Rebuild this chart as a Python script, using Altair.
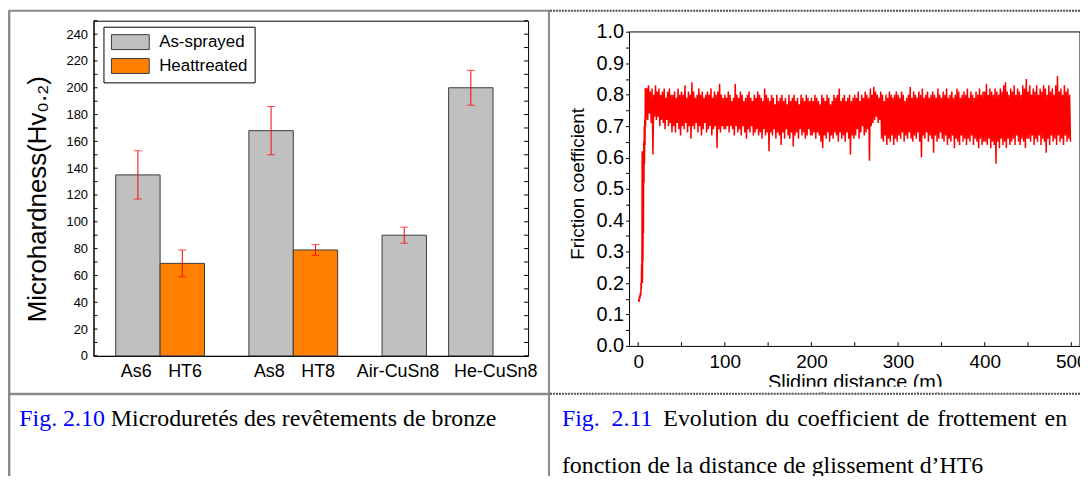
import altair as alt
import pandas as pd

# ---------------- Fig. 2.10 : microhardness ----------------
samples = ["As6", "HT6", "As8", "HT8", "Air-CuSn8", "He-CuSn8"]
series = ["As-sprayed", "Heattreated", "As-sprayed", "Heattreated", "As-sprayed", "As-sprayed"]
slot = [1, 2, 4, 5, 7, 8.5]
hardness = [135, 69, 168, 79, 90, 200]
err_low = [117, 59, 150, 75, 84, 187]
err_high = [153, 79, 186, 83, 96, 213]
hardness_ticks = list(range(0, 250, 20))
hardness_minor = list(range(0, 251, 10))
label_slots = [0.95, 2.05, 3.95, 5.05, 6.85, 9.05]
series_names = ["As-sprayed", "Heattreated"]
series_colors = ["#c0c0c0", "#ff8000"]

# ---------------- Fig. 2.11 : friction coefficient ----------------
ramp_x = [0.5, 1.0, 1.5, 2.0, 2.5, 3.0, 3.3, 3.6, 4.0, 4.3, 4.6, 4.9, 5.2, 5.5,
          5.8, 6.1, 6.4, 6.7, 7.0, 7.3, 7.6, 7.9, 8.2, 8.5, 8.8, 9.1, 9.4]
ramp_mu = [0.15, 0.14, 0.16, 0.15, 0.17, 0.16, 0.20, 0.18, 0.26, 0.22, 0.62, 0.20, 0.30, 0.27,
           0.45, 0.36, 0.65, 0.52, 0.70, 0.58, 0.72, 0.64, 0.82, 0.70, 0.81, 0.72, 0.82]
# peaks read at 10, 12, ..., 498 m ; troughs at 11, 13, ..., 499 m
peak_mu = [
    0.82, 0.83, 0.81, 0.82, 0.80, 0.83, 0.81, 0.82, 0.80, 0.81, 0.82, 0.79, 0.81, 0.82, 0.80,
    0.80, 0.81, 0.79, 0.82, 0.80, 0.81, 0.80, 0.83, 0.79, 0.81,
    0.80, 0.84, 0.81, 0.79, 0.80, 0.82, 0.80, 0.81, 0.79, 0.80,
    0.81, 0.80, 0.82, 0.79, 0.81, 0.80, 0.81, 0.835, 0.80, 0.79,
    0.80, 0.79, 0.81, 0.80, 0.78, 0.79, 0.835, 0.80, 0.79, 0.81,
    0.80, 0.78, 0.79, 0.80, 0.81, 0.79, 0.78, 0.80, 0.79, 0.81,
    0.80, 0.79, 0.78, 0.82, 0.80,
    0.79, 0.78, 0.80, 0.79, 0.77, 0.80, 0.78, 0.79, 0.80, 0.78,
    0.79, 0.77, 0.80, 0.78, 0.79, 0.80, 0.78, 0.79, 0.77, 0.80,
    0.79, 0.78, 0.80, 0.79, 0.78,
    0.79, 0.78, 0.80, 0.79, 0.78, 0.77, 0.80, 0.79, 0.78, 0.80,
    0.79, 0.77, 0.78, 0.80, 0.79, 0.80, 0.82, 0.78, 0.79, 0.80,
    0.78, 0.79, 0.80, 0.78, 0.79,
    0.80, 0.79, 0.81, 0.78, 0.80, 0.79, 0.81, 0.80, 0.79, 0.82,
    0.80, 0.825, 0.81, 0.80, 0.79, 0.81, 0.80, 0.78, 0.80, 0.79,
    0.81, 0.80, 0.79, 0.80, 0.81,
    0.80, 0.79, 0.81, 0.80, 0.78, 0.79, 0.80, 0.825, 0.79, 0.81,
    0.80, 0.79, 0.81, 0.80, 0.82, 0.79, 0.80, 0.81, 0.79, 0.80,
    0.81, 0.80, 0.79, 0.82, 0.80,
    0.79, 0.81, 0.80, 0.82, 0.79, 0.80, 0.81, 0.79, 0.80, 0.82,
    0.81, 0.79, 0.80, 0.81, 0.80, 0.82, 0.79, 0.81, 0.80, 0.79,
    0.81, 0.80, 0.82, 0.80, 0.81,
    0.81, 0.835, 0.80, 0.82, 0.81, 0.80, 0.82, 0.81, 0.80, 0.82,
    0.81, 0.83, 0.84, 0.81, 0.80, 0.82, 0.81, 0.83, 0.80, 0.82,
    0.81, 0.80, 0.83, 0.82, 0.85,
    0.81, 0.83, 0.80, 0.82, 0.81, 0.83, 0.80, 0.82, 0.81, 0.83,
    0.82, 0.80, 0.83, 0.81, 0.82, 0.80, 0.83, 0.86, 0.81, 0.82,
    0.80, 0.83, 0.81, 0.82, 0.80,
]
trough_mu = [
    0.72, 0.74, 0.71, 0.61, 0.73, 0.72, 0.73, 0.70, 0.72, 0.71, 0.69, 0.72, 0.70, 0.71, 0.68,
    0.70, 0.68, 0.71, 0.69, 0.67, 0.70, 0.69, 0.71, 0.68, 0.70,
    0.66, 0.70, 0.69, 0.71, 0.68, 0.70, 0.67, 0.69, 0.71, 0.68,
    0.69, 0.70, 0.67, 0.69, 0.70, 0.63, 0.69, 0.68, 0.70, 0.69,
    0.69, 0.70, 0.68, 0.70, 0.69, 0.67, 0.70, 0.68, 0.69, 0.67,
    0.70, 0.68, 0.66, 0.69, 0.68, 0.70, 0.67, 0.68, 0.69, 0.67,
    0.68, 0.66, 0.69, 0.67, 0.68,
    0.62, 0.68, 0.67, 0.69, 0.66, 0.68, 0.67, 0.64, 0.68, 0.66,
    0.69, 0.67, 0.66, 0.68, 0.635, 0.67, 0.68, 0.66, 0.69, 0.67,
    0.68, 0.66, 0.67, 0.69, 0.67,
    0.67, 0.68, 0.66, 0.68, 0.67, 0.65, 0.63, 0.67, 0.66, 0.68,
    0.65, 0.67, 0.66, 0.68, 0.67, 0.65, 0.68, 0.66, 0.67, 0.65,
    0.68, 0.66, 0.61, 0.67, 0.66,
    0.67, 0.69, 0.66, 0.68, 0.70, 0.67, 0.68, 0.69, 0.59, 0.70,
    0.71, 0.72, 0.73, 0.71, 0.72, 0.66, 0.65, 0.67, 0.64, 0.66,
    0.65, 0.67, 0.64, 0.66, 0.65,
    0.67, 0.66, 0.68, 0.65, 0.67, 0.66, 0.68, 0.66, 0.65, 0.67,
    0.66, 0.68, 0.65, 0.60, 0.67, 0.66, 0.68, 0.65, 0.67, 0.66,
    0.615, 0.67, 0.65, 0.66, 0.68,
    0.66, 0.65, 0.67, 0.64, 0.66, 0.65, 0.67, 0.63, 0.66, 0.65,
    0.64, 0.67, 0.65, 0.66, 0.64, 0.66, 0.65, 0.67, 0.64, 0.66,
    0.65, 0.63, 0.66, 0.64, 0.65,
    0.65, 0.64, 0.66, 0.63, 0.65, 0.64, 0.58, 0.65, 0.63, 0.66,
    0.64, 0.65, 0.63, 0.66, 0.64, 0.65, 0.66, 0.64, 0.67, 0.65,
    0.64, 0.66, 0.65, 0.63, 0.66,
    0.66, 0.65, 0.67, 0.64, 0.66, 0.65, 0.67, 0.64, 0.66, 0.65,
    0.615, 0.66, 0.64, 0.67, 0.65, 0.66, 0.64, 0.67, 0.65, 0.66,
    0.64, 0.67, 0.65, 0.66, 0.65,
]
distance_ticks = [0, 100, 200, 300, 400, 500]
distance_minor = [0, 50, 100, 150, 200, 250, 300, 350, 400, 450, 500]
mu_ticks = [round(i * 0.05, 2) for i in range(21)]

caption_left_num = "Fig. 2.10"
caption_left_text = "Microduretés des revêtements de bronze"
caption_right_num = "Fig.\u20022.11"
caption_right_text = "Evolution\u2004du\u2004coefficient\u2004de\u2004frottement\u2004en"
caption_right_line2 = "fonction de la distance de glissement d\u2019HT6"

SANS = "Liberation Sans"
SERIF = "Liberation Serif"
GRID_GRAY = "#8a8a8a"

# ---------------- data frames ----------------
bars = pd.DataFrame({
    "sample": samples, "series": series, "slot": slot,
    "hardness": hardness, "lo": err_low, "hi": err_high,
})
bars["x0"] = bars["slot"] - 0.5
bars["x1"] = bars["slot"] + 0.5
hminor = pd.DataFrame({"v": hardness_minor})
one = pd.DataFrame({"k": [0]})

fx, fy = list(ramp_x), list(ramp_mu)
for i in range(len(peak_mu)):
    fx.append(10 + 2 * i); fy.append(peak_mu[i])
    fx.append(11 + 2 * i); fy.append(trough_mu[i])
friction = pd.DataFrame({"distance": fx, "mu": fy})
dminor = pd.DataFrame({"v": distance_minor})

# ---------------- left chart ----------------
LW, LH = 437, 337
xs = alt.Scale(domain=[0, 9.79], nice=False, zero=False)
ys = alt.Scale(domain=[0, 250], nice=False)

names_js = "[" + ",".join("'%s'" % s for s in samples) + "]"
slots_js = "[" + ",".join(repr(v) for v in label_slots) + "]"

bar_layer = alt.Chart(bars).mark_bar(stroke="#3a3a3a", strokeWidth=1).encode(
    x=alt.X("x0:Q", scale=xs, axis=alt.Axis(
        values=label_slots, tickCount=50,
        labelExpr=f"{names_js}[indexof({slots_js}, datum.value)]",
        ticks=False, title=None, labelFontSize=18, labelPadding=7,
        labelFlush=False, labelOverlap=False, grid=False)),
    x2="x1:Q",
    y=alt.Y("hardness:Q", scale=ys, axis=alt.Axis(
        values=hardness_ticks, tickCount=50, ticks=False, labelFontSize=13, labelPadding=6,
        labelOverlap=False,
        title="Microhardness(Hv\u2080.\u2082)", titleFontSize=26, titleFontWeight="normal",
        titlePadding=16, titleY=179, grid=False)),
    y2=alt.datum(0),
    color=alt.Color("series:N", scale=alt.Scale(domain=series_names, range=series_colors),
                    legend=alt.Legend(
                        title=None, orient="none", legendX=10, legendY=6,
                        symbolType="M-1,-1H4.07V1H-1Z", symbolSize=225,
                        symbolStrokeColor="#3a3a3a", symbolStrokeWidth=1, symbolOpacity=1,
                        labelFont=SANS, labelFontSize=17, labelColor="black", labelOffset=32,
                        strokeColor="black", fillColor="white", padding=7, rowPadding=5)),
)
err_rule = alt.Chart(bars).mark_rule(color="#ff0000", strokeWidth=1).encode(
    x=alt.X("slot:Q", scale=xs), y=alt.Y("lo:Q", scale=ys), y2="hi:Q")
cap_lo = alt.Chart(bars).mark_tick(color="#ff0000", orient="horizontal", size=8, thickness=1).encode(
    x=alt.X("slot:Q", scale=xs), y=alt.Y("lo:Q", scale=ys))
cap_hi = alt.Chart(bars).mark_tick(color="#ff0000", orient="horizontal", size=8, thickness=1).encode(
    x=alt.X("slot:Q", scale=xs), y=alt.Y("hi:Q", scale=ys))
tick_in_l = alt.Chart(hminor).mark_rule(color="black").encode(
    y=alt.Y("v:Q", scale=ys), x=alt.datum(0), x2=alt.datum(0.09))
tick_in_r = alt.Chart(hminor).mark_rule(color="black").encode(
    y=alt.Y("v:Q", scale=ys), x=alt.datum(9.70), x2=alt.datum(9.79))

left_deco = [
    alt.Chart(one).mark_rule(color=GRID_GRAY, strokeWidth=3).encode(
        x=alt.value(-85.1), y=alt.value(-10), y2=alt.value(470)),
    alt.Chart(one).mark_rule(color=GRID_GRAY, strokeWidth=2).encode(
        x=alt.value(-85.6), x2=alt.value(459.4), y=alt.value(-10)),
    alt.Chart(one).mark_rule(color=GRID_GRAY, strokeWidth=2.5).encode(
        x=alt.value(-85.6), x2=alt.value(459.4), y=alt.value(375.3)),
    alt.Chart(one).mark_text(align="left", baseline="alphabetic", font=SERIF, fontSize=24,
                             color="#0000ff").encode(
        x=alt.value(-74.6), y=alt.value(407.3), text=alt.value(caption_left_num)),
    alt.Chart(one).mark_text(align="left", baseline="alphabetic", font=SERIF, fontSize=24,
                             color="black").encode(
        x=alt.value(17.4), y=alt.value(407.3), text=alt.value(caption_left_text)),
]

left = alt.layer(bar_layer, err_rule, cap_lo, cap_hi, tick_in_l, tick_in_r, *left_deco).properties(
    width=LW, height=LH, view=alt.ViewBackground(stroke="black", strokeWidth=1))

# ---------------- right chart ----------------
RW, RH = 453, 327
dx = alt.Scale(domain=[-10, 510], nice=False, zero=False)
my = alt.Scale(domain=[0, 1.0357], nice=False, zero=True)

line = alt.Chart(friction).mark_line(color="#ff0000", strokeWidth=1.5).encode(
    x=alt.X("distance:Q", scale=dx, axis=alt.Axis(
        values=distance_ticks, tickCount=50, ticks=False, title="Sliding distance (m)",
        titleFontSize=20, titleFontWeight="normal", titlePadding=1, labelFontSize=19,
        labelPadding=7, labelFlush=False, labelOverlap=False, grid=False)),
    y=alt.Y("mu:Q", scale=my, axis=alt.Axis(
        values=mu_ticks, tickCount=50,
        labelExpr="round(datum.value*20) % 2 == 0 ? format(datum.value, '.1f') : ''",
        tickSize=4, labelFontSize=20, labelPadding=2, domain=False, grid=False,
        labelOverlap=False,
        title="Friction coefficient", titleFontSize=19, titleFontWeight="normal",
        titlePadding=8)),
)
frame = [
    alt.Chart(one).mark_rule(color="black", strokeWidth=1).encode(
        x=alt.datum(-10), y=alt.datum(0), y2=alt.datum(1.0)),
    alt.Chart(one).mark_rule(color="black", strokeWidth=1).encode(
        x=alt.datum(510), y=alt.datum(0), y2=alt.datum(1.0)),
    alt.Chart(one).mark_rule(color="black", strokeWidth=1).encode(
        x=alt.datum(-10), x2=alt.datum(510), y=alt.datum(1.0)),
]
tick_in_x = alt.Chart(dminor).mark_rule(color="black").encode(
    x=alt.X("v:Q", scale=dx), y=alt.datum(0), y2=alt.datum(0.012))

right_deco = [
    alt.Chart(one).mark_rect(color="white").encode(
        x=alt.value(0), x2=alt.value(RW), y=alt.value(368), y2=alt.value(374)),
    alt.Chart(one).mark_rule(color=GRID_GRAY, strokeWidth=2).encode(
        x=alt.value(-81), y=alt.value(-10), y2=alt.value(470)),
    alt.Chart(one).mark_rule(color="#505050", strokeWidth=2, strokeDash=[2, 1]).encode(
        x=alt.value(-80), x2=alt.value(453), y=alt.value(-10)),
    alt.Chart(one).mark_rule(color="#505050", strokeWidth=2, strokeDash=[2, 1]).encode(
        x=alt.value(-80), x2=alt.value(453), y=alt.value(375)),
    alt.Chart(one).mark_text(align="left", baseline="alphabetic", font=SERIF, fontSize=24,
                             color="#0000ff").encode(
        x=alt.value(-68), y=alt.value(407.3), text=alt.value(caption_right_num)),
    alt.Chart(one).mark_text(align="left", baseline="alphabetic", font=SERIF, fontSize=24,
                             color="black", limit=426, ellipsis=" ").encode(
        x=alt.value(34), y=alt.value(407.3), text=alt.value(caption_right_text)),
    alt.Chart(one).mark_text(align="left", baseline="alphabetic", font=SERIF, fontSize=24,
                             color="black").encode(
        x=alt.value(-68), y=alt.value(455), text=alt.value(caption_right_line2)),
]

right = alt.layer(line, *frame, tick_in_x, *right_deco).properties(
    width=RW, height=RH, view=alt.ViewBackground(stroke="transparent"))

chart = alt.hconcat(left, right, spacing=102, bounds="flush").resolve_scale(
    color="independent").properties(
    padding={"left": -2, "top": -0.5, "right": -8, "bottom": -16},
    background="white",
).configure_axis(
    labelFont=SANS, titleFont=SANS, labelColor="black", titleColor="black",
    domainColor="black", tickColor="black", grid=False, labelOverlap=False,
).configure_text(font=SANS)

chart.save("out.html", embed_options={"renderer": "svg", "actions": False})
